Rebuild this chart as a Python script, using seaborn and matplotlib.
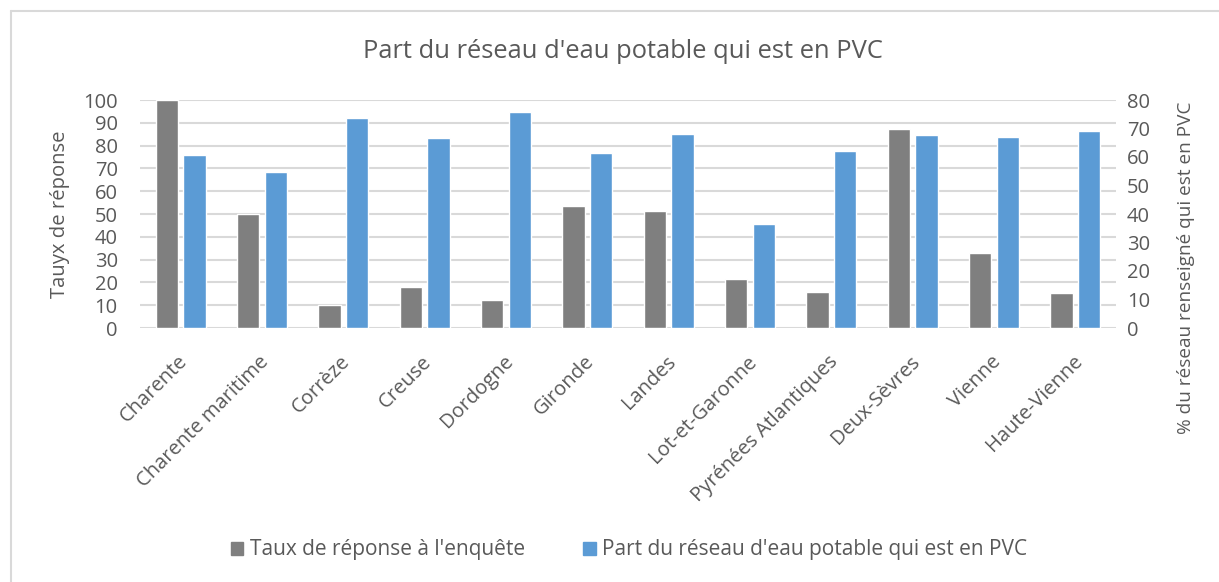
import pandas as pd
import seaborn as sns
import matplotlib.pyplot as plt
from matplotlib.lines import Line2D
from matplotlib.patches import Patch
from matplotlib.transforms import ScaledTranslation

departements = ["Charente", "Charente maritime", "Corrèze", "Creuse", "Dordogne",
                "Gironde", "Landes", "Lot-et-Garonne", "Pyrénées Atlantiques",
                "Deux-Sèvres", "Vienne", "Haute-Vienne"]
taux_reponse = [100, 50, 10.2, 18, 12.1, 53.6, 51.2, 21.5, 15.6, 87.5, 33, 15.3]
part_pvc = [60.8, 54.9, 73.6, 66.7, 75.9, 61.5, 68.2, 36.4, 62.0, 67.6, 66.9, 69.0]

serie_taux = "Taux de réponse à l'enquête"
serie_pvc = "Part du réseau d'eau potable qui est en PVC"

df = pd.DataFrame({
    "departement": departements * 2,
    "valeur": taux_reponse + part_pvc,
    "serie": [serie_taux] * len(departements) + [serie_pvc] * len(departements),
})

grey = "#7F7F7F"
blue = "#5B9BD5"
text_col = "#595959"
grid_col = "#D9D9D9"
palette = {serie_taux: grey, serie_pvc: blue}
order = [serie_taux, serie_pvc]

sns.set_theme(style="white")
plt.rcParams["font.family"] = ["Open Sans", "DejaVu Sans"]

fig = plt.figure(figsize=(12.19, 5.82), dpi=100)
ax = fig.add_axes([140 / 1219, 1 - 328 / 582, (1116 - 140) / 1219, (328 - 100) / 582])
ax2 = ax.twinx()

# both axes get the full dodged layout; each keeps only its own series
for a, keep in ((ax, 0), (ax2, 1)):
    sns.barplot(data=df, x="departement", y="valeur", hue="serie",
                hue_order=order, palette=palette, order=departements,
                width=0.68, gap=0.2, ax=a, legend=False, saturation=1)
    for i, cont in enumerate(a.containers):
        if i != keep:
            for bar in cont:
                bar.set_visible(False)

ax.set_ylim(0, 100)
ax2.set_ylim(0, 80)
ax.set_yticks(range(0, 101, 10))
ax2.set_yticks(range(0, 81, 10))
ax.set_xlim(-0.5, len(departements) - 0.5)

ax.set_axisbelow(True)
ax.yaxis.grid(True, color=grid_col, linewidth=1.5)
ax2.grid(False)
for a in (ax, ax2):
    for s in a.spines.values():
        s.set_visible(False)
    a.set_xlabel("")
    a.set_ylabel("")
    a.tick_params(length=0, colors=text_col, labelsize=14.5)

ax.tick_params(axis="y", pad=16)
ax2.tick_params(axis="y", pad=8)
ax.set_xticks(range(len(departements)))
ax.set_xticklabels(departements, rotation=45, ha="right", rotation_mode="anchor")
ax.tick_params(axis="x", pad=17, labelsize=14.5)
shift = ScaledTranslation(-3 / 100, 0, fig.dpi_scale_trans)
for lbl in ax.get_xticklabels():
    lbl.set_transform(lbl.get_transform() + shift)

fig.text(623 / 1219, 1 - 51 / 582, "Part du réseau d'eau potable qui est en PVC",
         ha="center", va="center", fontsize=18.4, color=text_col)
fig.text(60 / 1219, 1 - 214 / 582, "Tauyx de réponse", rotation=90,
         ha="center", va="center", fontsize=14.6, color=text_col)
fig.text(1186 / 1219, 1 - 268 / 582, "% du réseau renseigné qui est en PVC", rotation=90,
         ha="center", va="center", fontsize=13.7, color=text_col)

handles = [Patch(color=grey), Patch(color=blue)]
leg = fig.legend(handles, order, loc="center", bbox_to_anchor=(629 / 1219, 1 - 550 / 582),
                 ncol=2, frameon=False, fontsize=15, handlelength=0.6, handleheight=0.6,
                 handletextpad=0.3, columnspacing=2.8)
for t in leg.get_texts():
    t.set_color(text_col)

fig.add_artist(Line2D([11 / 1219, 11 / 1219], [0, 1 - 11 / 582], color=grid_col, linewidth=1.5))
fig.add_artist(Line2D([11 / 1219, 1], [1 - 11 / 582, 1 - 11 / 582], color=grid_col, linewidth=1.5))

fig.savefig("out.png", dpi=100)
